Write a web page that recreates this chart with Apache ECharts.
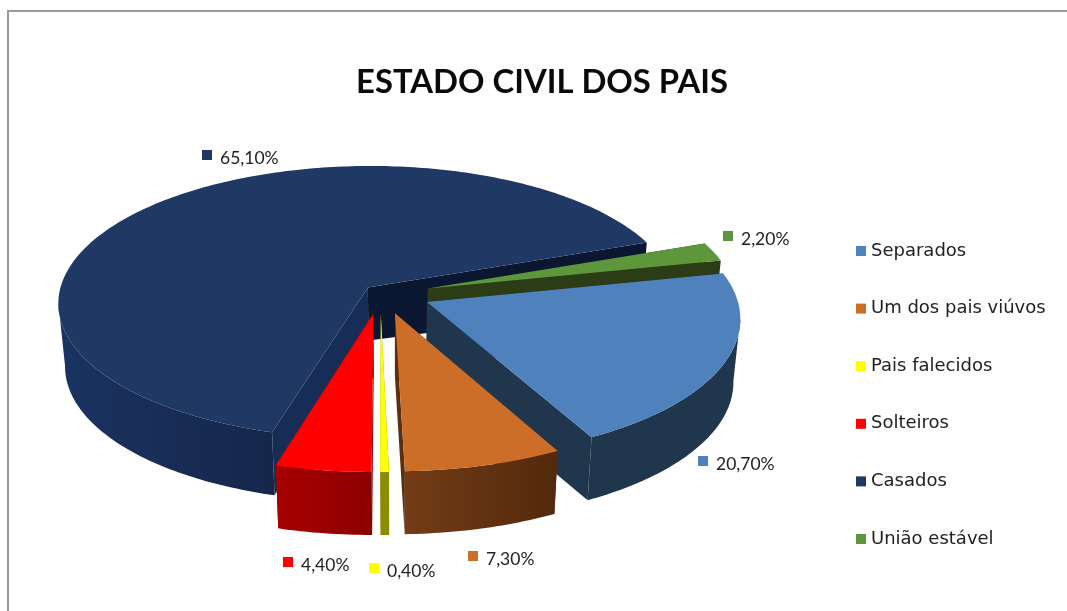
<!DOCTYPE html>
<html>
<head>
<meta charset="utf-8">
<style>html,body{margin:0;padding:0;background:#fff}#c{width:1067px;height:611px}</style>
<script src="https://cdn.jsdelivr.net/npm/echarts@6/dist/echarts.min.js"></script>
</head>
<body>
<div id="c"></div>
<script>
// ---- data ----
const titleText = 'ESTADO CIVIL DOS PAIS';
const categories = ['Separados', 'Um dos pais viúvos', 'Pais falecidos', 'Solteiros', 'Casados', 'União estável'];
const values = [20.7, 7.3, 0.4, 4.4, 65.1, 2.2];
const valueLabels = ['20,70%', '7,30%', '0,40%', '4,40%', '65,10%', '2,20%'];

// ---- style / layout ----
const topColors = ['#4F81BD', '#CD6E28', '#FFFF00', '#FF0000', '#1F3864', '#5E973B'];
const outerWall = [['#20364D', '#20364D'], ['#733C16', '#52290C'], ['#8C8C00', '#8C8C00'], ['#A80000', '#8C0000'], ['#1B3361', '#15264A'], ['#2C3C16', '#2C3C16']];
const startWall = ['#20364D', '#5A2F10', '#8C8C00', '#8C0000', '#172D55', '#2C3C16'];
const endWall = ['#20364D', '#5A2F10', '#8C8C00', '#8C0000', '#0B1730', '#2C3C16'];
const drawOrder = [4, 5, 0, 3, 2, 1];
const explode = [[0.106, 0.03], [0.003, 0.11], [-0.042, 0.115], [-0.066, 0.114], [-0.085, -0.078], [0.11, -0.07]];
const apexDepth = [63, 63, 63, 63, 53, 63];
const labelAnchor = [[703, 461], [473, 556], [374, 568], [288, 562], [207, 155], [728, 236]];
const firstAngle = 77.7, cx = 394, cy = 298, rx = 310, ry = 137, persp = 0.11, depth = 63, baseShrink = 0.98;
const frontLimit = persp; // the rim's silhouette tangent sits where the perspective x is widest

const total = values.reduce((a, b) => a + b, 0);
function project(px, py, bottom) {
  const s = 1 / (1 - persp * py);
  if (!bottom) return [cx + rx * px * s, cy + ry * py * s];
  return [cx + rx * px * s * baseShrink, cy + ry * py * s + depth];
}
function sliceAngles(i) {
  let a = firstAngle;
  for (let k = 0; k < i; k++) a += values[k] / total * 360;
  return [a, a + values[i] / total * 360];
}
function renderSlice(i, api) {
  const [a0, a1] = sliceAngles(i);
  const [ex, ey] = explode[i];
  const steps = Math.max(2, Math.ceil(a1 - a0));
  const planArc = [];
  for (let k = 0; k <= steps; k++) {
    const t = (a0 + (a1 - a0) * k / steps) * Math.PI / 180;
    planArc.push([ex + Math.sin(t), ey - Math.cos(t)]);
  }
  const topArc = planArc.map(p => project(p[0], p[1], false));
  const botArc = planArc.map(p => project(p[0], p[1], true));
  const near = planArc.filter(p => p[1] - ey >= frontLimit);
  const nearTop = near.map(p => project(p[0], p[1], false));
  const nearBot = near.map(p => project(p[0], p[1], true));
  const apexT = project(ex, ey, false);
  const apexB = [project(ex, ey, true)[0], apexT[1] + apexDepth[i]];
  const poly = (points, fill) => ({ type: 'polygon', shape: { points }, style: { fill, stroke: null }, silent: true });
  const grad = new echarts.graphic.LinearGradient(0, 0, 1, 0, [
    { offset: 0, color: outerWall[i][0] }, { offset: 1, color: outerWall[i][1] }]);
  const [lx, ly] = labelAnchor[i];
  const parts = [
    poly([apexT, topArc[steps], botArc[steps], apexB], endWall[i]),
    poly([apexT, topArc[0], botArc[0], apexB], startWall[i])
  ];
  if (near.length > 1) parts.push(poly(nearTop.concat(nearBot.slice().reverse()), grad));
  parts.push(
    poly([apexT].concat(topArc), topColors[i]),
    { type: 'rect', shape: { x: lx - 5, y: ly - 5, width: 10, height: 10 }, style: { fill: topColors[i] }, silent: true },
    { type: 'text', x: lx + 13, y: ly + 3, silent: true,
      style: { text: valueLabels[i], fill: '#222', font: '17.5px Lato', textVerticalAlign: 'middle', verticalAlign: 'middle' } }
  );
  return { type: 'group', children: parts };
}

const chart = echarts.init(document.getElementById('c'), null, { renderer: 'canvas' });
chart.setOption({
  animation: false,
  backgroundColor: '#fff',
  title: { text: titleText, left: 537, top: 61, textAlign: 'center',
    textStyle: { fontFamily: 'Lato', fontWeight: 'bold', fontSize: 32.8, color: '#0a0a0a' } },
  legend: {
    orient: 'vertical', left: 851, top: 237, icon: 'rect', itemWidth: 10, itemHeight: 10, itemGap: 39.6,
    data: categories, selectedMode: false,
    textStyle: { fontFamily: 'DejaVu Sans', fontSize: 18, color: '#222', lineHeight: 16 }
  },
  graphic: [{ type: 'rect', silent: true, z: -1, shape: { x: 8, y: 11, width: 1080, height: 640 },
    style: { fill: 'none', stroke: '#9a9a9a', lineWidth: 2 } }],
  series: drawOrder.map(i => ({
    type: 'custom', name: categories[i], coordinateSystem: 'none', silent: true,
    itemStyle: { color: topColors[i] },
    data: [[values[i]]],
    renderItem: (params, api) => renderSlice(i, api)
  }))
});
</script>
</body>
</html>
